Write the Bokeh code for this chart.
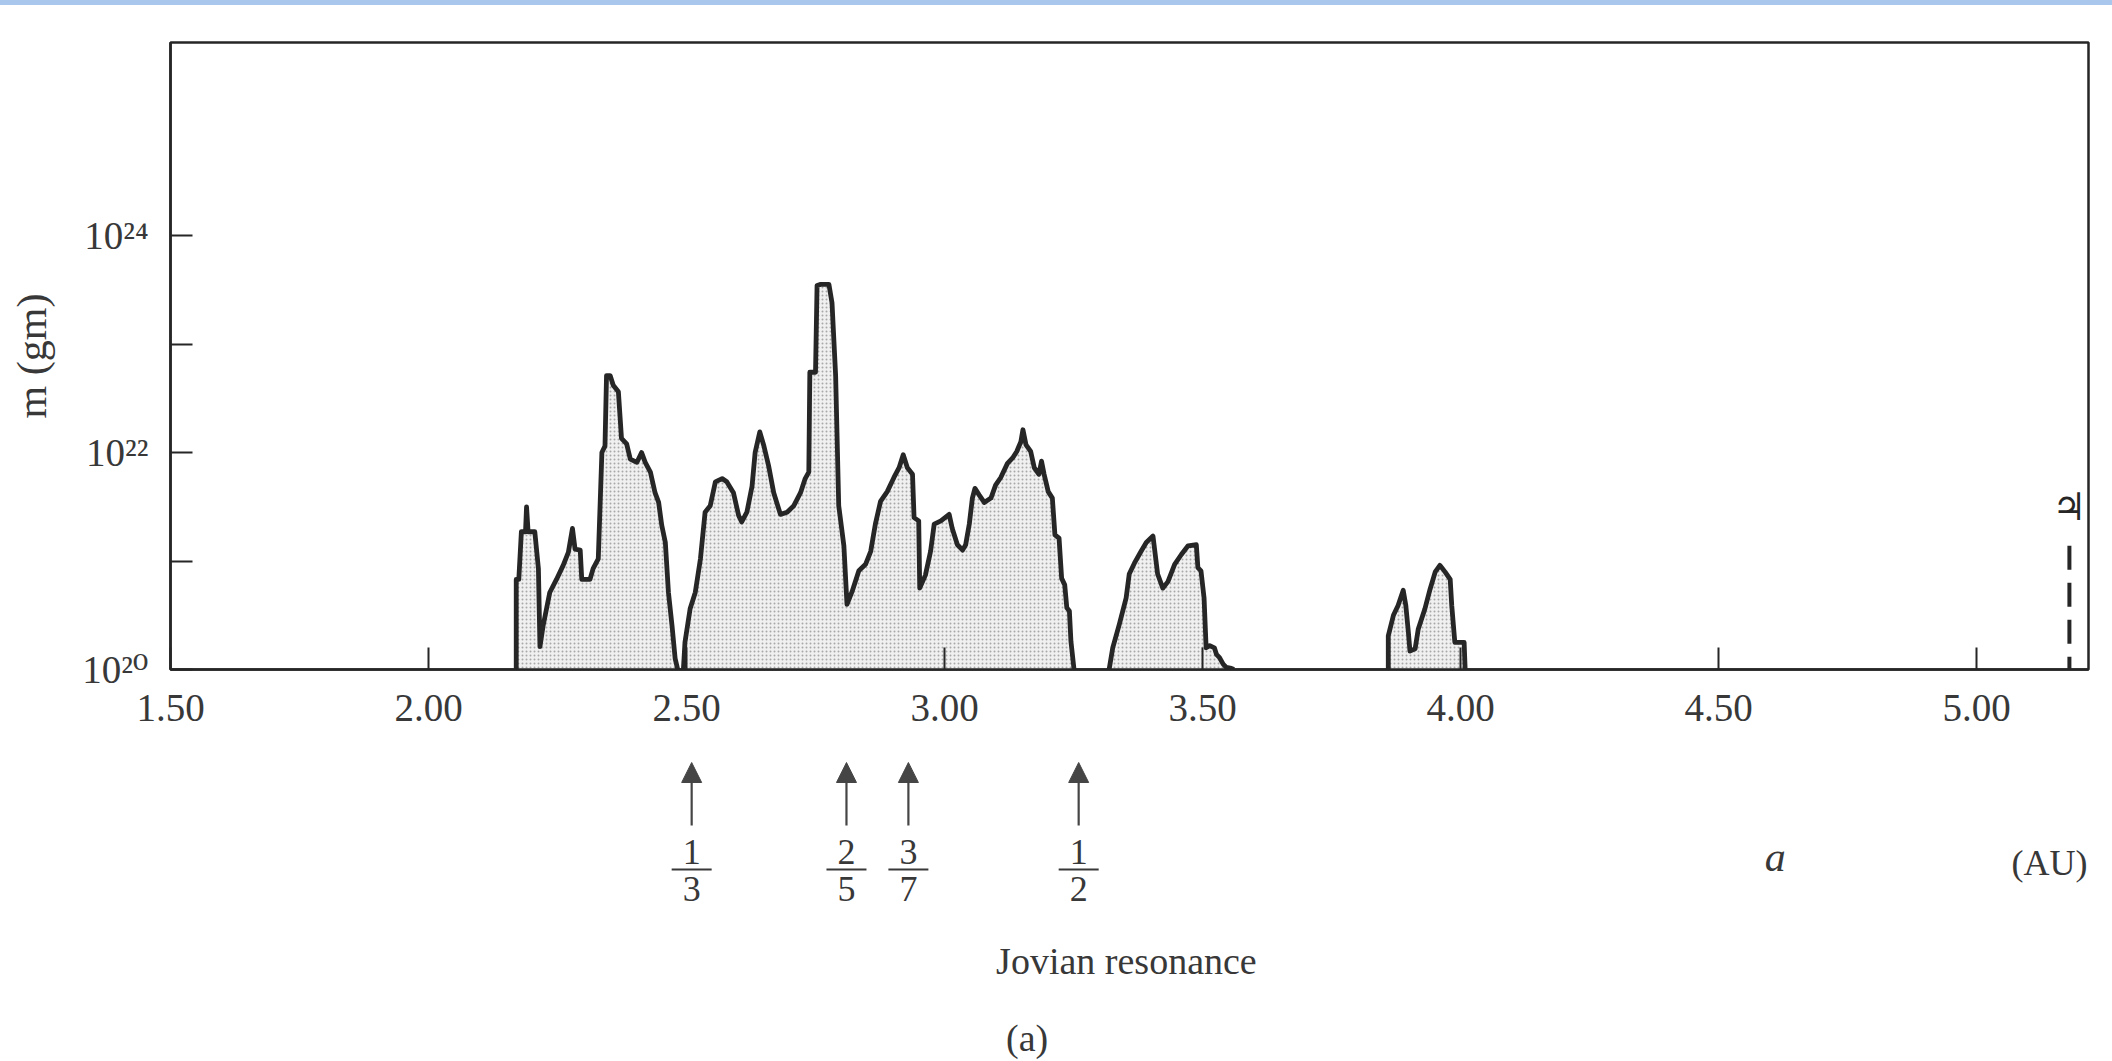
import math
from bokeh.plotting import figure
from bokeh.models import Range1d, FixedTicker, Arrow, NormalHead, Div
from bokeh.layouts import column
from bokeh.core.properties import value
from bokeh.embed import file_html
from bokeh.resources import INLINE

# ---------------- data (a in AU, log10 of mass in gm) ----------------
band1_a = [2.170, 2.170, 2.175, 2.180, 2.188, 2.190, 2.193, 2.206, 2.213, 2.216, 2.222, 2.235,
           2.248, 2.261, 2.271, 2.279, 2.284, 2.294, 2.297, 2.313, 2.319, 2.329, 2.336, 2.342,
           2.345, 2.352, 2.358, 2.368, 2.374, 2.384, 2.391, 2.404, 2.413, 2.420, 2.430, 2.439,
           2.446, 2.452, 2.459, 2.465, 2.472, 2.478, 2.483]
band1_exp = [20.00, 20.83, 20.83, 21.27, 21.27, 21.50, 21.27, 21.27, 20.93, 20.21, 20.40, 20.71,
             20.83, 20.96, 21.08, 21.30, 21.11, 21.10, 20.83, 20.83, 20.93, 21.02, 22.00, 22.06,
             22.71, 22.71, 22.62, 22.56, 22.13, 22.08, 21.94, 21.91, 22.00, 21.91, 21.82, 21.63,
             21.54, 21.33, 21.17, 20.71, 20.40, 20.10, 20.00]

band2_a = [2.494, 2.497, 2.507, 2.517, 2.527, 2.536, 2.546, 2.556, 2.569, 2.578, 2.591, 2.601,
           2.607, 2.617, 2.627, 2.633, 2.642, 2.650, 2.659, 2.669, 2.682, 2.695, 2.708, 2.721,
           2.730, 2.737, 2.739, 2.750, 2.753, 2.760, 2.776, 2.782, 2.789, 2.795, 2.805, 2.811,
           2.821, 2.834, 2.847, 2.857, 2.866, 2.876, 2.889, 2.902, 2.912, 2.920, 2.928, 2.938,
           2.941, 2.950, 2.952, 2.963, 2.973, 2.980, 2.993, 3.009, 3.015, 3.025, 3.035, 3.041,
           3.048, 3.054, 3.059, 3.067, 3.077, 3.090, 3.099, 3.109, 3.122, 3.132, 3.140, 3.148,
           3.152, 3.158, 3.167, 3.174, 3.183, 3.188, 3.193, 3.201, 3.209, 3.214, 3.222, 3.227,
           3.233, 3.237, 3.242, 3.245, 3.251]
band2_exp = [20.00, 20.25, 20.56, 20.71, 21.02, 21.45, 21.51, 21.73, 21.76, 21.73, 21.63, 21.42,
             21.36, 21.45, 21.69, 22.00, 22.19, 22.06, 21.88, 21.63, 21.43, 21.45, 21.51, 21.63,
             21.76, 21.82, 22.74, 22.74, 23.54, 23.55, 23.55, 23.38, 22.71, 21.51, 21.14, 20.60,
             20.72, 20.91, 20.97, 21.09, 21.34, 21.55, 21.64, 21.77, 21.86, 21.98, 21.86, 21.80,
             21.40, 21.37, 20.75, 20.87, 21.09, 21.34, 21.37, 21.43, 21.30, 21.15, 21.10, 21.15,
             21.34, 21.58, 21.67, 21.61, 21.54, 21.58, 21.70, 21.77, 21.90, 21.95, 22.01, 22.10,
             22.21, 22.07, 22.01, 21.86, 21.80, 21.92, 21.80, 21.64, 21.58, 21.24, 21.21, 20.84,
             20.78, 20.57, 20.54, 20.26, 20.00]

band3_a = [3.319, 3.326, 3.339, 3.352, 3.358, 3.368, 3.381, 3.391, 3.404, 3.413, 3.423, 3.433,
           3.446, 3.459, 3.472, 3.488, 3.491, 3.497, 3.503, 3.507, 3.514, 3.523, 3.527, 3.533,
           3.540, 3.546, 3.556, 3.561]
band3_exp = [20.00, 20.20, 20.42, 20.66, 20.88, 20.98, 21.09, 21.17, 21.23, 20.88, 20.75, 20.81,
             20.97, 21.06, 21.14, 21.15, 20.94, 20.91, 20.66, 20.20, 20.22, 20.20, 20.14, 20.11,
             20.05, 20.02, 20.01, 20.00]

band4_a = [3.860, 3.860, 3.870, 3.879, 3.889, 3.894, 3.899, 3.902, 3.912, 3.918, 3.931, 3.941,
           3.951, 3.960, 3.970, 3.980, 3.983, 3.989, 4.007, 4.009]
band4_exp = [20.00, 20.31, 20.50, 20.59, 20.73, 20.59, 20.34, 20.17, 20.19, 20.37, 20.56, 20.74,
             20.90, 20.96, 20.90, 20.83, 20.59, 20.25, 20.25, 20.00]

bands = [(band1_a, band1_exp), (band2_a, band2_exp), (band3_a, band3_exp), (band4_a, band4_exp)]

resonance_a = [2.51, 2.81, 2.93, 3.26]
resonance_num = ["1", "2", "3", "1"]
resonance_den = ["3", "5", "7", "2"]

jupiter_a = 5.18
jupiter_mark_exp = 21.14
jupiter_symbol_exp = 21.50

x_ticks = [1.5, 2.0, 2.5, 3.0, 3.5, 4.0, 4.5, 5.0]
x_tick_labels = ["1.50", "2.00", "2.50", "3.00", "3.50", "4.00", "4.50", "5.00"]
y_tick_exps = [20, 21, 22, 23, 24]
y_tick_labels = ["10²⁰", "", "10²²", "", "10²⁴"]

# ---------------- layout / style ----------------
W, H = 2112, 1061
STRIP = 5
H_MAIN = 740
H_BOT = H - H_MAIN - STRIP
FL, FR, FT, FB = 170, 24, 37, 76
X_MIN, X_MAX = 1.5, 5.217
E_MIN, E_MAX = 20.0, 25.78
PX_AU = (W - FL - FR) / (X_MAX - X_MIN)

FONT = "Liberation Serif"
FONT_STACK = "Liberation Serif, DejaVu Serif"
INK = "#262626"
TXT = "#383838"

p = figure(width=W, height=H_MAIN,
           x_range=Range1d(X_MIN, X_MAX),
           y_range=Range1d(10.0 ** E_MIN, 10.0 ** E_MAX),
           y_axis_type="log", output_backend="svg", toolbar_location=None,
           min_border_left=FL, min_border_right=FR, min_border_top=FT, min_border_bottom=FB)
p.xgrid.visible = False
p.ygrid.visible = False
p.outline_line_color = INK
p.outline_line_width = 2.5
p.background_fill_color = "white"
p.border_fill_color = "white"

for ax in (p.xaxis[0], p.yaxis[0]):
    ax.axis_line_color = INK
    ax.axis_line_width = 2.5
    ax.major_tick_line_color = INK
    ax.major_tick_line_width = 2
    ax.major_tick_in = 22
    ax.major_tick_out = 0
    ax.minor_tick_in = 0
    ax.minor_tick_out = 0
    ax.minor_tick_line_color = None
    ax.major_label_text_font = FONT_STACK
    ax.major_label_text_font_size = "39px"
    ax.major_label_text_color = TXT

p.xaxis.major_label_standoff = 25
p.yaxis.major_label_standoff = 22

p.xaxis.ticker = FixedTicker(ticks=x_ticks)
p.xaxis.major_label_overrides = {t: l for t, l in zip(x_ticks, x_tick_labels)}
p.yaxis.ticker = FixedTicker(ticks=[10.0 ** e for e in y_tick_exps])
p.yaxis.major_label_overrides = {10.0 ** e: l for e, l in zip(y_tick_exps, y_tick_labels)}

p.yaxis.axis_label = "m (gm)"
p.yaxis.axis_label_text_font = FONT
p.yaxis.axis_label_text_font_style = "normal"
p.yaxis.axis_label_text_font_size = "42px"
p.yaxis.axis_label_text_color = TXT
p.yaxis.axis_label_standoff = 24

for a_vals, e_vals in bands:
    ys = [10.0 ** e for e in e_vals]
    p.patch(a_vals, ys, fill_color="#f0f0f0", line_color=None,
            hatch_pattern="dot", hatch_color="#a8a8a8", hatch_scale=4, hatch_weight=1)
    p.line(a_vals, ys, line_color=INK, line_width=4.8, line_join="round")

# Jupiter marker
p.segment(x0=[jupiter_a], y0=[10.0 ** jupiter_mark_exp], x1=[jupiter_a], y1=[10.0 ** E_MIN],
          line_color=INK, line_width=4, line_dash="24 13")
p.text(x=[jupiter_a], y=[10.0 ** jupiter_symbol_exp], text=["♃"],
       text_font=value("DejaVu Sans"), text_font_size="38px", text_color=INK,
       text_align="center", text_baseline="middle")

# ---------------- bottom annotation strip (frame aligned with the main plot) ----------------
q = figure(width=W, height=H_BOT,
           x_range=p.x_range,
           y_range=Range1d(H_BOT, 0),
           x_axis_location=None, y_axis_location=None,
           output_backend="svg", toolbar_location=None,
           min_border_left=FL, min_border_right=FR, min_border_top=0, min_border_bottom=0)
q.grid.visible = False
q.outline_line_color = None
q.background_fill_color = "white"
q.border_fill_color = "white"

ARROW_C = "#454545"
for r in resonance_a:
    q.add_layout(Arrow(end=NormalHead(size=20, fill_color=ARROW_C, line_color=ARROW_C, line_width=1),
                       x_start=r, y_start=80, x_end=r, y_end=17,
                       line_color=ARROW_C, line_width=2.2))

half_bar = 20 / PX_AU
q.segment(x0=[r - half_bar for r in resonance_a], y0=[124] * len(resonance_a),
          x1=[r + half_bar for r in resonance_a], y1=[124] * len(resonance_a),
          line_color=TXT, line_width=2)
q.text(x=resonance_a, y=[106] * len(resonance_a), text=resonance_num,
       text_font=value(FONT), text_font_size="36px", text_color=TXT,
       text_align="center", text_baseline="middle")
q.text(x=resonance_a, y=[143] * len(resonance_a), text=resonance_den,
       text_font=value(FONT), text_font_size="36px", text_color=TXT,
       text_align="center", text_baseline="middle")

q.text(x=[3.10], y=[215], text=["Jovian resonance"],
       text_font=value(FONT), text_font_size="38px", text_color=TXT,
       text_align="left", text_baseline="middle")
q.text(x=[3.16], y=[292], text=["(a)"],
       text_font=value(FONT), text_font_size="38px", text_color=TXT,
       text_align="center", text_baseline="middle")
q.text(x=[4.61], y=[111], text=["a"],
       text_font=value(FONT), text_font_size="42px", text_font_style="italic",
       text_color=TXT, text_align="center", text_baseline="middle")
q.text(x=[5.215], y=[117], text=["(AU)"],
       text_font=value(FONT), text_font_size="36px", text_color=TXT,
       text_align="right", text_baseline="middle")

strip = Div(text="", width=W, height=STRIP, margin=0,
            styles={"background-color": "#a9c6ec"})

layout = column(strip, p, q, spacing=0)
open("out.html", "w").write(file_html(layout, INLINE))
